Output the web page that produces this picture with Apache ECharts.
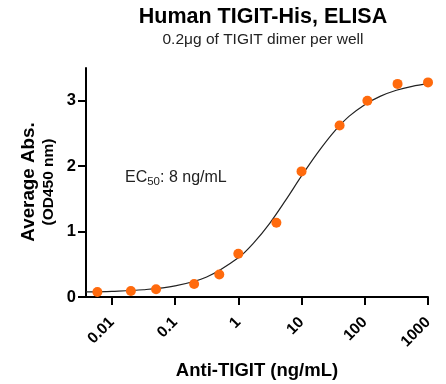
<!DOCTYPE html>
<html>
<head>
<meta charset="utf-8">
<script src="https://cdn.jsdelivr.net/npm/echarts@6/dist/echarts.min.js"></script>
<style>html,body{margin:0;padding:0;background:#fff}#c{width:446px;height:384px}</style>
</head>
<body>
<div id="c"></div>
<script>
// Measured points (concentration ng/mL, Average Abs.)
var concentrations = [0.0059, 0.02, 0.05, 0.2, 0.5, 1, 4, 10, 40, 110, 330, 1000];
var absorbance = [0.077, 0.092, 0.118, 0.20, 0.343, 0.66, 1.135, 1.92, 2.62, 3.0, 3.257, 3.28];
// Fitted curve
var curveX = [0.0039, 0.01, 0.0316, 0.1, 0.316, 1, 1.78, 3.16, 5.62, 10, 17.8, 31.6, 56.2, 100, 178, 316, 562, 1000];
var curveY = [0.077, 0.087, 0.111, 0.170, 0.306, 0.60, 0.835, 1.13, 1.48, 1.85, 2.20, 2.51, 2.76, 2.94, 3.07, 3.16, 3.22, 3.26];
var xTicks = [0.01, 0.1, 1, 10, 100, 1000];
var yTicks = [0, 1, 2, 3];

var FONT = 'Liberation Sans, Arial, sans-serif';
var chart = echarts.init(document.getElementById('c'));
chart.setOption({
  animation: false,
  backgroundColor: '#fff',
  title: {
    text: 'Human TIGIT-His, ELISA',
    subtext: '0.2μg of TIGIT dimer per well',
    left: 258, top: 1, textAlign: 'center',
    itemGap: 4,
    textStyle: {fontFamily: FONT, fontSize: 21.5, fontWeight: 'bold', color: '#000'},
    subtextStyle: {fontFamily: FONT, fontSize: 15.5, color: '#222'}
  },
  grid: {left: 86, right: 18, top: 68, bottom: 87, containLabel: false, outerBoundsMode: 'none'},
  xAxis: {
    type: 'log', min: 0.0039, max: 1000,
    name: 'Anti-TIGIT (ng/mL)', nameLocation: 'middle', nameGap: 64, nameMoveOverlap: false,
    nameTextStyle: {fontFamily: FONT, fontSize: 18.5, fontWeight: 'bold', color: '#000'},
    axisLine: {lineStyle: {color: '#000', width: 2}},
    axisTick: {show: true, length: 8, lineStyle: {color: '#000', width: 2}, customValues: xTicks},
    axisLabel: {rotate: 45, margin: 23, fontFamily: FONT, fontSize: 15.5, fontWeight: 'bold', color: '#000',
      customValues: xTicks, formatter: function (v) { return String(+v); }},
    minorTick: {show: false},
    splitLine: {show: false}
  },
  yAxis: {
    type: 'value', min: 0, max: 3.5,
    axisLine: {show: true, lineStyle: {color: '#000', width: 2}},
    axisTick: {show: true, length: 8, lineStyle: {color: '#000', width: 2}, customValues: yTicks},
    axisLabel: {margin: 10, fontFamily: FONT, fontSize: 16.5, fontWeight: 'bold', color: '#000', customValues: yTicks},
    splitLine: {show: false}
  },
  graphic: [
    {type: 'text', x: 29, y: 182, rotation: Math.PI / 2,
      style: {text: 'Average Abs.', fontFamily: FONT, fontSize: 18.8, fontWeight: 'bold', fill: '#000', align: 'center', verticalAlign: 'middle'}},
    {type: 'text', x: 49, y: 182, rotation: Math.PI / 2,
      style: {text: '(OD450 nm)', fontFamily: FONT, fontSize: 15.5, fontWeight: 'bold', fill: '#000', align: 'center', verticalAlign: 'middle'}},
    {type: 'text', x: 125, y: 178,
      style: {text: '{n|EC}{s|50}{n|: 8 ng/mL}', verticalAlign: 'middle',
        rich: {n: {fontFamily: FONT, fontSize: 16, fill: '#222', color: '#222'},
               s: {fontFamily: FONT, fontSize: 11.5, fill: '#222', color: '#222', padding: [7, 0, 0, 0]}}}}
  ],
  series: [
    {type: 'line', data: curveX.map(function (x, i) { return [x, curveY[i]]; }),
      smooth: 0.35, showSymbol: false, symbol: 'none', lineStyle: {color: '#222', width: 1.2}, z: 2},
    {type: 'scatter', data: concentrations.map(function (x, i) { return [x, absorbance[i]]; }),
      symbolSize: 10, itemStyle: {color: '#FF6A0D', opacity: 1}, z: 3}
  ]
});
</script>
</body>
</html>
